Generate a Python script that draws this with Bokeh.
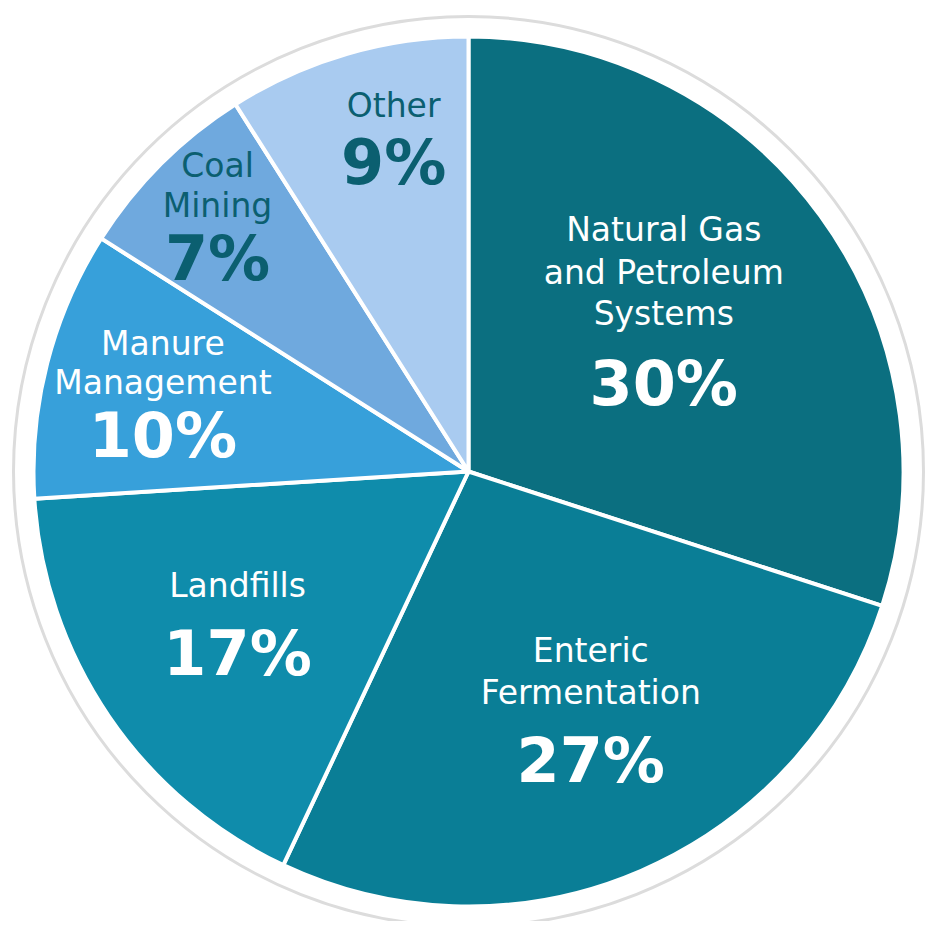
import numpy as np
from bokeh.plotting import figure
from bokeh.models import Range1d, ColumnDataSource
from bokeh.embed import file_html
from bokeh.resources import INLINE
from bokeh.core.properties import value

# ---- data ----
categories = ["Natural Gas and Petroleum Systems", "Enteric Fermentation", "Landfills",
              "Manure Management", "Coal Mining", "Other"]
label_lines = [["Natural Gas", "and Petroleum", "Systems"], ["Enteric", "Fermentation"],
               ["Landfills"], ["Manure", "Management"], ["Coal", "Mining"], ["Other"]]
shares = [30, 27, 17, 10, 7, 9]
pct_labels = ["30%", "27%", "17%", "10%", "7%", "9%"]

# ---- style ----
colors = ["#0b6f80", "#0a7e96", "#0f8cab", "#37a0da", "#6fa9de", "#a9cbf0"]
text_colors = ["white", "white", "white", "white", "#0b5f70", "#0b5f70"]
label_r = [250, 265, 278, 300, 350, 340]
nudge = [(-7, -18), (17, -9), (-1, -8), (-15, -7), (-3.5, -12), (20, -11)]
name_offsets = [[-77, -34, 7], [-55, -13], [-34], [-46, -7], [-46.5, -6.5], [-28.5]]
pct_offsets = [77, 55, 34, 46, 46.5, 28.5]
R = 435
FONT = "DejaVu Sans"

W, H = 933, 921
cx, cy = 468, 471
p = figure(width=W, height=H, output_backend="svg", toolbar_location=None,
           x_range=Range1d(-cx, W - cx), y_range=Range1d(-(H - cy), cy),
           min_border=0, x_axis_location=None, y_axis_location=None,
           outline_line_color=None, background_fill_color="white")
p.grid.visible = False

frac = np.array(shares, dtype=float) / sum(shares)
cum = np.concatenate([[0], np.cumsum(frac)])
start = np.pi / 2 - 2 * np.pi * cum[1:]
end = np.pi / 2 - 2 * np.pi * cum[:-1]
mid = (start + end) / 2

# faint outer ring
p.circle(x=[0], y=[0], radius=455, fill_color=None, line_color="#dcdcdc", line_width=3)

src = ColumnDataSource(dict(start=start, end=end, color=colors, cat=categories))
p.wedge(x=0, y=0, radius=R, start_angle="start", end_angle="end", direction="anticlock",
        fill_color="color", line_color="white", line_width=4, source=src)

# labels
nx, ny, ntext, ncol, nxo, nyo = [], [], [], [], [], []
px_, py_, ptext, pcol, pxo, pyo = [], [], [], [], [], []
for i in range(len(shares)):
    ax = label_r[i] * np.cos(mid[i])
    ay = label_r[i] * np.sin(mid[i])
    for line, off in zip(label_lines[i], name_offsets[i]):
        nx.append(ax); ny.append(ay); ntext.append(line); ncol.append(text_colors[i])
        nxo.append(nudge[i][0]); nyo.append(nudge[i][1] + off)
    px_.append(ax); py_.append(ay); ptext.append(pct_labels[i]); pcol.append(text_colors[i])
    pxo.append(nudge[i][0]); pyo.append(nudge[i][1] + pct_offsets[i])

p.text(x="x", y="y", text="t", text_color="c", x_offset="xo", y_offset="yo",
       source=ColumnDataSource(dict(x=nx, y=ny, t=ntext, c=ncol, xo=nxo, yo=nyo)),
       text_font=value(FONT), text_font_size="33px", text_align="center",
       text_baseline="middle")
p.text(x="x", y="y", text="t", text_color="c", x_offset="xo", y_offset="yo",
       source=ColumnDataSource(dict(x=px_, y=py_, t=ptext, c=pcol, xo=pxo, yo=pyo)),
       text_font=value(FONT), text_font_size="62px", text_font_style="bold",
       text_align="center", text_baseline="middle")

open("out.html", "w").write(file_html(p, INLINE))
